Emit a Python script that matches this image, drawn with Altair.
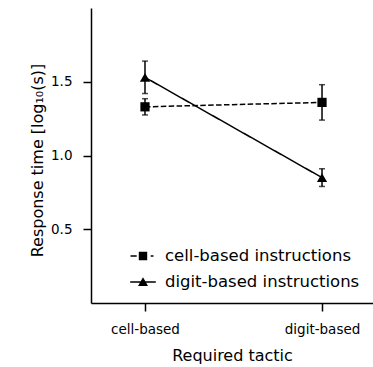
import altair as alt
import pandas as pd

# Two conditions on the x axis, one series per instruction type
tactics = ["cell-based", "digit-based"]
series = ["cell-based instructions", "digit-based instructions"]

cell_mean = [1.33, 1.36]
cell_err = [0.055, 0.12]
digit_mean = [1.53, 0.85]
digit_err = [0.11, 0.06]

y_ticks = [0.5, 1.0, 1.5]

rows = []
for name, means, errs in [(series[0], cell_mean, cell_err),
                          (series[1], digit_mean, digit_err)]:
    for i, (m, e) in enumerate(zip(means, errs)):
        rows.append({"series": name, "pos": i, "tactic": tactics[i],
                     "mean": m, "lo": m - e, "hi": m + e})
df = pd.DataFrame(rows)

FONT = "DejaVu Sans"
label_expr = "[" + ",".join("'%s'" % t for t in tactics) + "][datum.value]"

x_enc = alt.X(
    "pos:Q",
    scale=alt.Scale(domain=[-0.305, 1.288], nice=False, zero=False),
    axis=alt.Axis(values=[0, 1], labelExpr=label_expr, title="Required tactic",
                  labelBaseline="alphabetic", labelPadding=22.5,
                  titleBaseline="alphabetic", titleY=57),
)
y_enc = alt.Y(
    "mean:Q",
    scale=alt.Scale(domain=[0, 2], nice=False, zero=False),
    axis=alt.Axis(values=y_ticks, format=".1f", title="Response time [log₁₀(s)]",
                  labelPadding=11, titleX=-48.5, titleY=152,
                  titleBaseline="alphabetic", titleAlign="center"),
)

base = alt.Chart(df)

lines = base.mark_line(strokeWidth=1.5, color="black").encode(
    x=x_enc, y=y_enc,
    strokeDash=alt.StrokeDash("series:N",
                              scale=alt.Scale(domain=series, range=[[5.5, 2.4], [1, 0]]),
                              legend=None),
)

bars = base.mark_rule(strokeWidth=1.5, color="black").encode(
    x="pos:Q", y="lo:Q", y2="hi:Q")
cap_lo = base.mark_tick(orient="horizontal", size=6, thickness=1.5, color="black").encode(
    x="pos:Q", y="lo:Q")
cap_hi = base.mark_tick(orient="horizontal", size=6, thickness=1.5, color="black").encode(
    x="pos:Q", y="hi:Q")

# Markers, one layer per series
marker_cell = base.transform_filter(alt.datum.series == series[0]).mark_point(
    shape="square", size=85, filled=True, opacity=1, color="black"
).encode(x="pos:Q", y="mean:Q")
marker_digit = base.transform_filter(alt.datum.series == series[1]).mark_point(
    shape="triangle-up", size=105, filled=True, opacity=1, color="black"
).encode(x="pos:Q", y="mean:Q")

# Legend glyphs (filled outlines): line (dashed / solid) with the marker in the middle
dashed_sym = ("M-1.25,-0.075H-0.63V0.075H-1.25Z"
              "M0.77,-0.075H1.05V0.075H0.77Z"
              "M-0.42,-0.42H0.42V0.42H-0.42Z")
solid_sym = ("M-1.28,-0.075H1.28V0.075H-1.28Z"
             "M0,-0.48L0.5,0.4H-0.5Z")

# Key layer: its points sit outside the x domain and are clipped away,
# only its shape legend is shown
legend_layer = base.transform_calculate(off="datum.pos + 10").mark_point(
    filled=True, color="black", opacity=1, clip=True
).encode(
    x="off:Q", y="mean:Q",
    shape=alt.Shape("series:N",
                    scale=alt.Scale(domain=series, range=[dashed_sym, solid_sym]),
                    legend=alt.Legend(title=None, orient="none", legendX=42, legendY=238,
                                      symbolSize=400, symbolStrokeWidth=0,
                                      symbolFillColor="black", symbolOpacity=1,
                                      labelFontSize=16.5, labelFont=FONT,
                                      labelColor="black", labelOffset=12, symbolOffset=0,
                                      labelLimit=0, rowPadding=7, padding=0)),
)

chart = alt.layer(lines, bars, cap_lo, cap_hi, marker_cell, marker_digit,
                  legend_layer).resolve_scale(
    shape="independent", strokeDash="independent"
).resolve_legend(
    shape="independent", strokeDash="independent"
).properties(
    width=282, height=295,
    autosize=alt.AutoSizeParams(type="none"),
    padding={"left": 91, "top": 8, "right": 0, "bottom": 64},
).configure_view(stroke=None).configure_axis(
    grid=False, domainColor="black", domainWidth=1.5, tickColor="black", tickWidth=1.5,
    tickSize=8, labelColor="black", labelFont=FONT, labelFontSize=13.5,
    titleColor="black", titleFont=FONT, titleFontSize=16, titleFontWeight="normal",
)

chart.save("out.html", embed_options={"renderer": "svg", "actions": False})
